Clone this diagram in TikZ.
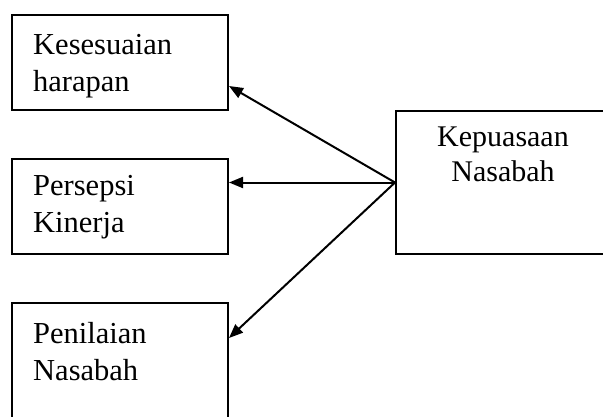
\documentclass[tikz,border=0pt]{standalone}
\usepackage{fontspec}
\setmainfont{Liberation Serif}
\usetikzlibrary{arrows.meta,calc}
\begin{document}
\begin{tikzpicture}[x=1pt,y=1pt,
  boxstyle/.style={draw=black,line width=2pt,rectangle,inner sep=0pt},
  lbl/.style={font=\fontsize{30.5}{37}\selectfont,inner sep=0pt,align=left,anchor=base west},
  lblc/.style={font=\fontsize{30}{35}\selectfont,inner sep=0pt,align=center,anchor=base},
  conn/.style={line width=2pt,-{Triangle[length=14pt,width=11pt]}}]
\useasboundingbox (0,0) rectangle (603,416);
\clip (0,0) rectangle (603,416);
% boxes (y measured from top: y' = 416 - y)
\node[boxstyle,minimum width=216pt,minimum height=95pt] (B1) at (120,416-62.5) {};
\node[boxstyle,minimum width=216pt,minimum height=95pt] (B2) at (120,416-206.7) {};
\node[boxstyle,minimum width=216pt,minimum height=130pt] (B3) at (120,416-367.7) {};
\node[boxstyle,minimum width=214pt,minimum height=143pt] (K) at (503,416-182.5) {};
% texts (anchored at the baseline of the last line)
\node[lbl] (T1) at (33,416-91.7) {Kesesuaian\\harapan};
\node[lbl] (T2) at (33,416-232.7) {Persepsi\\Kinerja};
\node[lbl] (T3) at (33,416-380) {Penilaian\\Nasabah};
\node[lblc] (TK) at (503,416-181.7) {Kepuasaan\\Nasabah};
% arrow targets
\coordinate (t1) at ([yshift=-23.5pt]B1.east);
\coordinate (t3) at ([yshift=-36.3pt]B3.north east);
\draw[conn] (K.west) -- (t1);
\draw[conn] (K.west) -- (B2.east |- K.west);
\draw[conn] (K.west) -- (t3);
\end{tikzpicture}
\end{document}
